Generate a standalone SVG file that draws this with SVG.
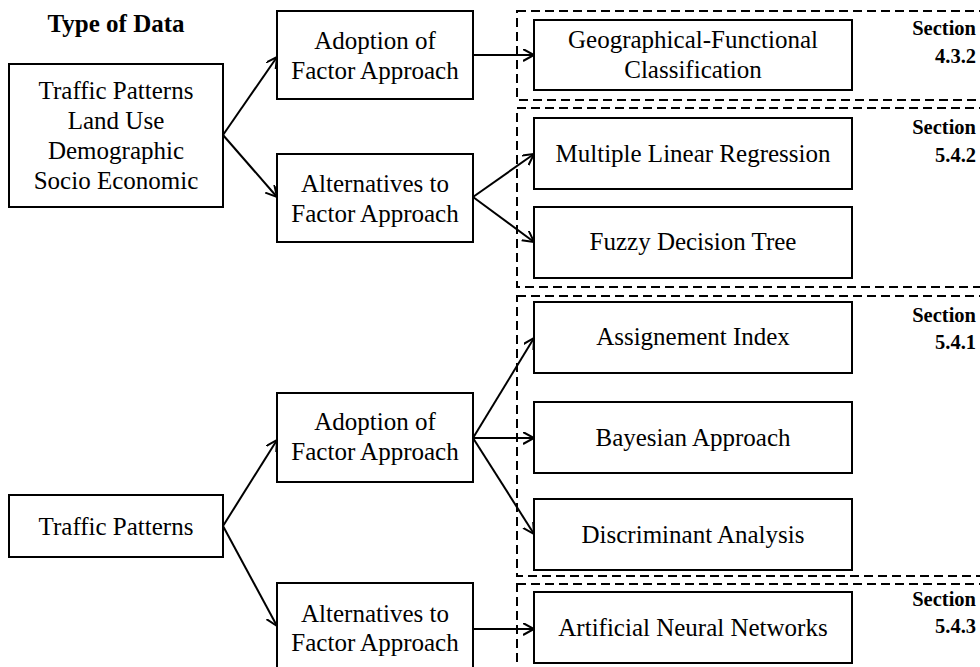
<svg xmlns="http://www.w3.org/2000/svg" width="980" height="667" viewBox="0 0 980 667">
  <defs>
    <style>
      .box { fill: #ffffff; stroke: #000000; stroke-width: 2; }
      .grp { fill: none; stroke: #000000; stroke-width: 2; stroke-dasharray: 9 5; }
      .edge { fill: none; stroke: #000000; stroke-width: 2; marker-end: url(#arrow); }
      .t { font-family: "Liberation Serif", "Times New Roman", serif; font-size: 25px; fill: #000000; text-anchor: middle; }
      .h { font-family: "Liberation Serif", "Times New Roman", serif; font-size: 25px; font-weight: bold; fill: #000000; text-anchor: middle; }
      .sec { font-family: "Liberation Serif", "Times New Roman", serif; font-size: 20.5px; font-weight: bold; fill: #000000; text-anchor: end; }
    </style>
    <marker id="arrow" markerUnits="userSpaceOnUse" markerWidth="14" markerHeight="14" refX="11" refY="6" orient="auto">
      <path d="M0,0 L11,6 L0,12" fill="none" stroke="#000000" stroke-width="2"/>
    </marker>
  </defs>

  <rect width="980" height="667" fill="#ffffff"/>

  <!-- heading -->
  <text class="h" x="116" y="32">Type of Data</text>

  <!-- dashed section groups -->
  <g id="groups">
    <rect class="grp" x="517" y="11" width="500" height="89"/>
    <rect class="grp" x="517" y="108" width="500" height="179"/>
    <rect class="grp" x="517" y="296" width="500" height="280"/>
    <rect class="grp" x="517" y="584" width="500" height="120"/>
  </g>

  <!-- section references -->
  <g id="sections">
    <text class="sec" x="976" y="35">Section</text>
    <text class="sec" x="976" y="63">4.3.2</text>
    <text class="sec" x="976" y="134">Section</text>
    <text class="sec" x="976" y="162">5.4.2</text>
    <text class="sec" x="976" y="322">Section</text>
    <text class="sec" x="976" y="349">5.4.1</text>
    <text class="sec" x="976" y="606">Section</text>
    <text class="sec" x="976" y="633">5.4.3</text>
  </g>

  <!-- connectors -->
  <g id="connectors">
    <line class="edge" x1="223" y1="135" x2="277" y2="57"/>
    <line class="edge" x1="223" y1="135" x2="277" y2="197"/>
    <line class="edge" x1="473" y1="55" x2="534" y2="55"/>
    <line class="edge" x1="473" y1="197" x2="534" y2="154"/>
    <line class="edge" x1="473" y1="197" x2="534" y2="242"/>
    <line class="edge" x1="223" y1="526" x2="277" y2="440"/>
    <line class="edge" x1="223" y1="526" x2="277" y2="626"/>
    <line class="edge" x1="473" y1="438" x2="534" y2="338"/>
    <line class="edge" x1="473" y1="438" x2="534" y2="438"/>
    <line class="edge" x1="473" y1="438" x2="534" y2="534"/>
    <line class="edge" x1="473" y1="629" x2="534" y2="629"/>
  </g>

  <!-- nodes -->
  <g id="data-all">
    <rect class="box" x="9" y="64" width="214" height="143"/>
    <text class="t" x="116" y="99">Traffic  Patterns</text>
    <text class="t" x="116" y="129">Land Use</text>
    <text class="t" x="116" y="159">Demographic</text>
    <text class="t" x="116" y="189">Socio Economic</text>
  </g>
  <g id="adopt-1">
    <rect class="box" x="277" y="11" width="196" height="88"/>
    <text class="t" x="375" y="49">Adoption  of</text>
    <text class="t" x="375" y="79">Factor Approach</text>
  </g>
  <g id="alt-1">
    <rect class="box" x="277" y="154" width="196" height="88"/>
    <text class="t" x="375" y="192">Alternatives  to</text>
    <text class="t" x="375" y="222">Factor Approach</text>
  </g>
  <g id="geo-func">
    <rect class="box" x="534" y="20" width="318" height="70"/>
    <text class="t" x="693" y="48">Geographical-Functional</text>
    <text class="t" x="693" y="78">Classification</text>
  </g>
  <g id="mlr">
    <rect class="box" x="534" y="118" width="318" height="71"/>
    <text class="t" x="693" y="162">Multiple Linear Regression</text>
  </g>
  <g id="fuzzy">
    <rect class="box" x="534" y="207" width="318" height="71"/>
    <text class="t" x="693" y="250">Fuzzy Decision Tree</text>
  </g>
  <g id="data-traffic">
    <rect class="box" x="9" y="495" width="214" height="62"/>
    <text class="t" x="116" y="535">Traffic  Patterns</text>
  </g>
  <g id="adopt-2">
    <rect class="box" x="277" y="393" width="196" height="89"/>
    <text class="t" x="375" y="430">Adoption  of</text>
    <text class="t" x="375" y="460">Factor Approach</text>
  </g>
  <g id="alt-2">
    <rect class="box" x="277" y="583" width="196" height="95"/>
    <text class="t" x="375" y="622">Alternatives  to</text>
    <text class="t" x="375" y="651">Factor Approach</text>
  </g>
  <g id="assign">
    <rect class="box" x="534" y="302" width="318" height="71"/>
    <text class="t" x="693" y="345">Assignement  Index</text>
  </g>
  <g id="bayes">
    <rect class="box" x="534" y="402" width="318" height="71"/>
    <text class="t" x="693" y="446">Bayesian Approach</text>
  </g>
  <g id="discrim">
    <rect class="box" x="534" y="499" width="318" height="71"/>
    <text class="t" x="693" y="543">Discriminant Analysis</text>
  </g>
  <g id="ann">
    <rect class="box" x="534" y="592" width="318" height="71"/>
    <text class="t" x="693" y="636">Artificial  Neural Networks</text>
  </g>
</svg>
